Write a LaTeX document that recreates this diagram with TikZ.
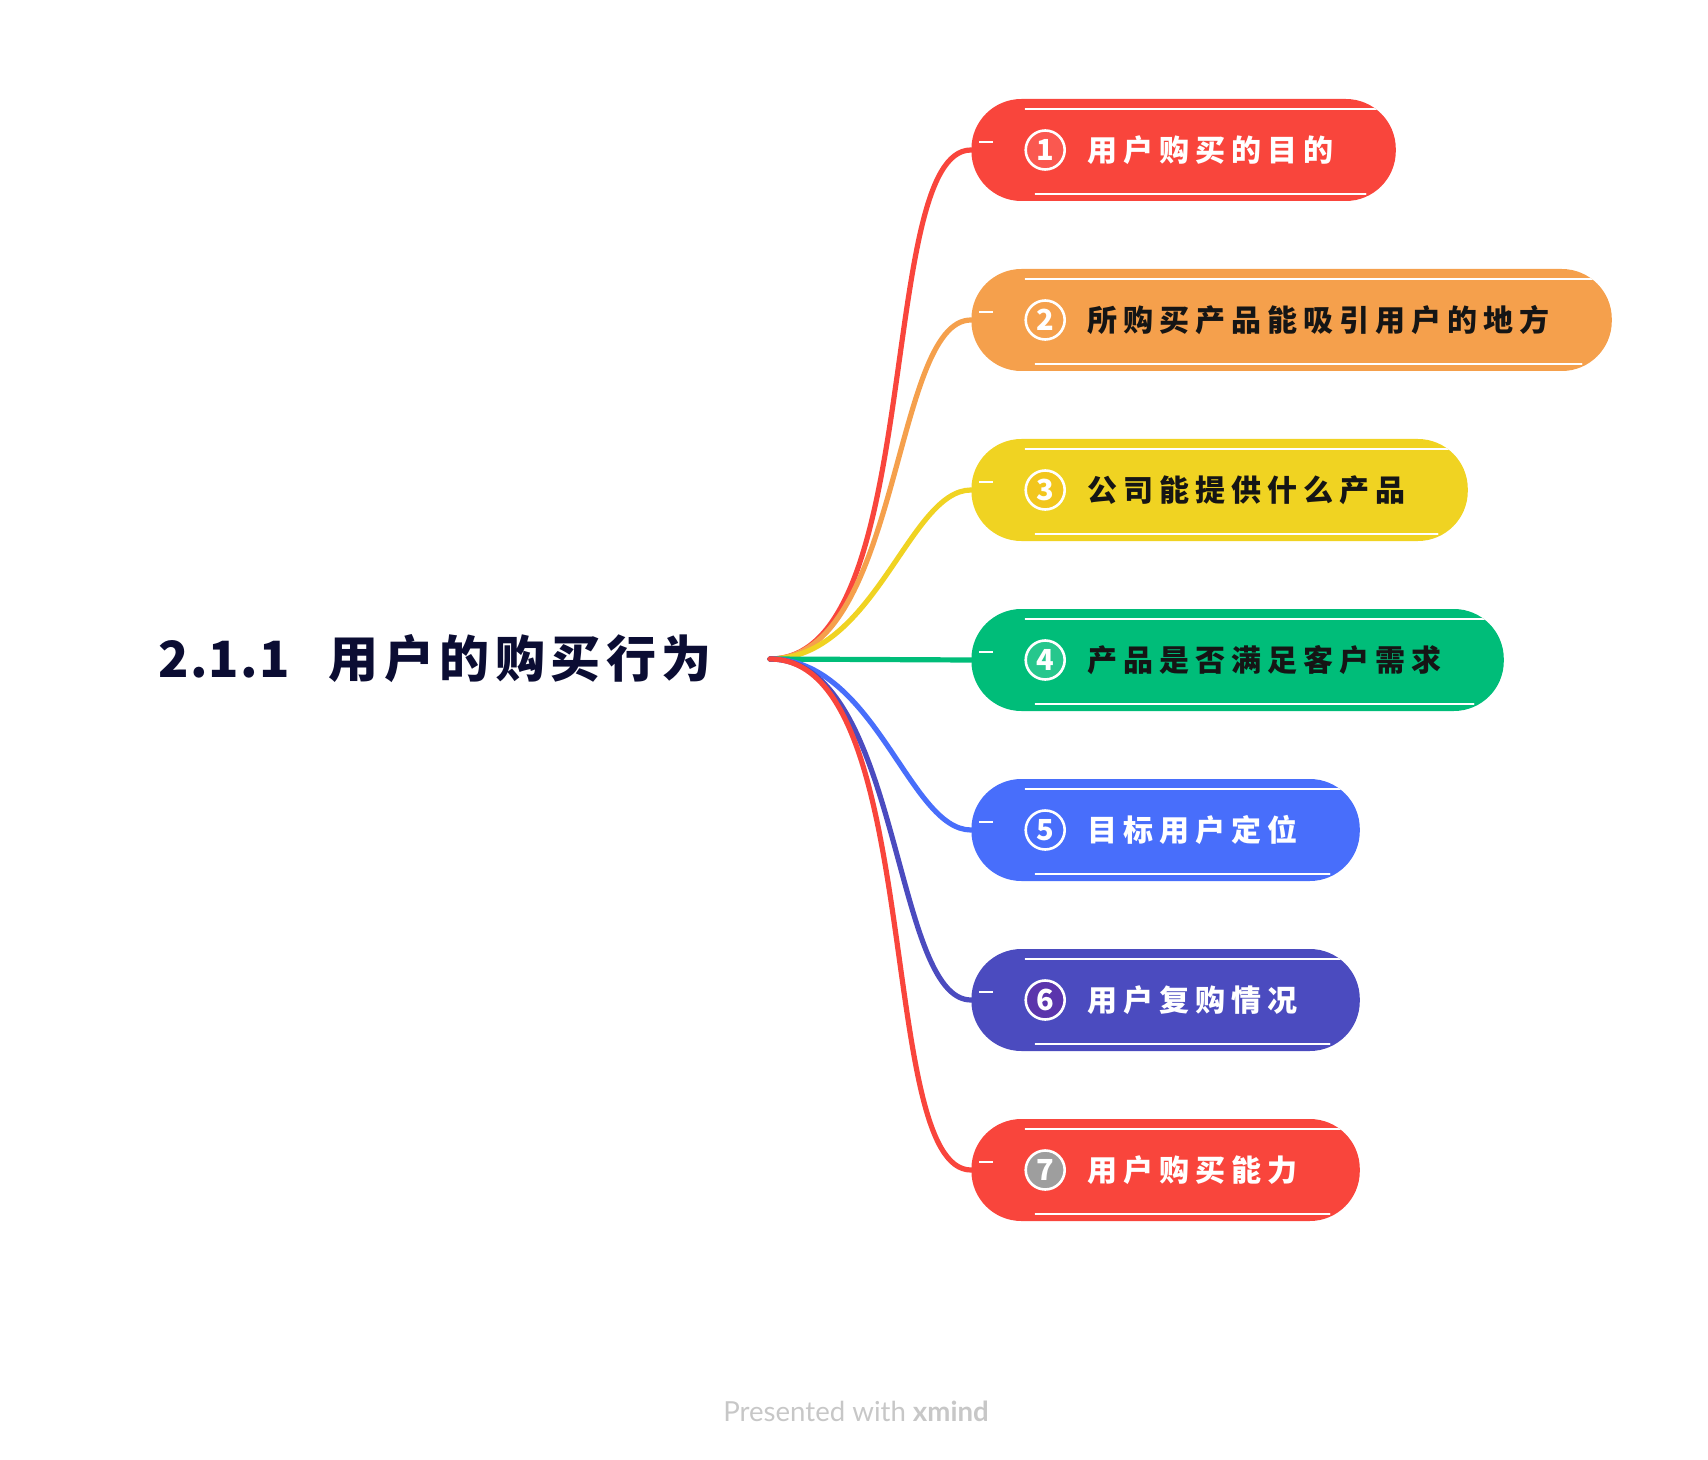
\documentclass[tikz,border=0pt]{standalone}
\usepackage{fontspec}
\setmainfont{Lato}
\newfontfamily\cjkfont[LetterSpace=20]{Noto Sans CJK SC}
\newfontfamily\titlefont[LetterSpace=11]{Noto Sans CJK SC}
\newfontfamily\digitfont[LetterSpace=2.5]{Noto Sans CJK SC}
\usetikzlibrary{positioning, fit, backgrounds}

\definecolor{mred}{HTML}{F9453C}
\definecolor{morange}{HTML}{F5A04C}
\definecolor{myellow}{HTML}{F0D322}
\definecolor{mgreen}{HTML}{00BD79}
\definecolor{mblue}{HTML}{486EFB}
\definecolor{mpurple}{HTML}{4B4BBF}
\definecolor{titleink}{HTML}{0B0D33}
\definecolor{darkink}{HTML}{151515}

\begin{document}
\begin{tikzpicture}[
        x=0.5pt, y=-0.5pt,
        topic/.style={font=\titlefont\bfseries\fontsize{25}{30}\selectfont, text=titleink, inner sep=0pt, anchor=west},
        itemtext/.style={font=\cjkfont\bfseries\fontsize{15}{18}\selectfont, inner sep=0pt, anchor=west},
        numdot/.style={circle, draw=white, line width=1.3pt, minimum size=19.5pt, inner sep=0pt, text=white, font=\digitfont\bfseries\fontsize{14.5}{15}\selectfont},
        pill/.style={rectangle, rounded corners=25pt, minimum height=51pt, inner xsep=26.5pt, inner ysep=0pt,
            path picture={
                \draw[white, line width=0.7pt, line cap=round] ([xshift=27pt,yshift=-5pt]path picture bounding box.north west) -- ([xshift=-8pt,yshift=-5pt]path picture bounding box.north east);
                \draw[white, line width=0.7pt, line cap=round] ([xshift=32pt,yshift=3.5pt]path picture bounding box.south west) -- ([xshift=-15pt,yshift=3.5pt]path picture bounding box.south east);
                \draw[white, line width=0.7pt] ([xshift=4pt,yshift=4pt]path picture bounding box.west) -- ++(7pt,0pt);
            }},
        link/.style={line width=2.6pt, line cap=round},
        credit/.style={font=\fontsize{13.8}{16}\selectfont, text=black!22}
    ]
    \useasboundingbox (0,0) rectangle (1708,1460);

    \node (topic) [topic] at (158,659) {{\digitfont 2.1.1}\hspace{19.5pt}用户的购买行为};
    \coordinate (hub) at (770,659);

    \node (t1) [itemtext, text=white] at (1087,150) {用户购买的目的};
    \node (t2) [itemtext, text=darkink, below=85pt of t1.west, anchor=west] {所购买产品能吸引用户的地方};
    \node (t3) [itemtext, text=darkink, below=85pt of t2.west, anchor=west] {公司能提供什么产品};
    \node (t4) [itemtext, text=darkink, below=85pt of t3.west, anchor=west] {产品是否满足客户需求};
    \node (t5) [itemtext, text=white, below=85pt of t4.west, anchor=west] {目标用户定位};
    \node (t6) [itemtext, text=white, below=85pt of t5.west, anchor=west] {用户复购情况};
    \node (t7) [itemtext, text=white, below=85pt of t6.west, anchor=west] {用户购买能力};

    \node (d1) [numdot, fill=mred!90!white, left=10.5pt of t1] {1};
    \node (d2) [numdot, fill=morange, left=10.5pt of t2] {2};
    \node (d3) [numdot, fill=myellow!85!orange, left=10.5pt of t3] {3};
    \node (d4) [numdot, fill=mgreen!85!white, left=10.5pt of t4] {4};
    \node (d5) [numdot, fill=mblue, left=10.5pt of t5] {5};
    \node (d6) [numdot, fill=mpurple!70!violet, left=10.5pt of t6] {6};
    \node (d7) [numdot, fill=black!38, left=10.5pt of t7] {7};

    % right ends of the pills
    \coordinate [right=4.5pt of t1] (e1);
    \coordinate [right=4.5pt of t2] (e2);
    \coordinate [right=4.5pt of t3] (e3);
    \coordinate [right=4.5pt of t4] (e4);
    \coordinate [right=4.5pt of t5] (e5);
    \coordinate [right=4.5pt of t6] (e6);
    \coordinate [right=4.5pt of t7] (e7);

    \begin{scope}[on background layer]
        \node (b1) [pill, fill=mred, fit=(d1)(t1)(e1)] {};
        \node (b2) [pill, fill=morange, fit=(d2)(t2)(e2)] {};
        \node (b3) [pill, fill=myellow, fit=(d3)(t3)(e3)] {};
        \node (b4) [pill, fill=mgreen, fit=(d4)(t4)(e4)] {};
        \node (b5) [pill, fill=mblue, fit=(d5)(t5)(e5)] {};
        \node (b6) [pill, fill=mpurple, fit=(d6)(t6)(e6)] {};
        \node (b7) [pill, fill=mred, fit=(d7)(t7)(e7)] {};
    \end{scope}

    \draw [link, mred] (hub) .. controls +(156,0) and +(-96,0) .. (b1.west);
    \draw [link, morange] (hub) .. controls +(131,0) and +(-79,0) .. (b2.west);
    \draw [link, myellow] (hub) .. controls +(105,0) and +(-62,0) .. (b3.west);
    \draw [link, mgreen] (hub) -- (b4.west);
    \draw [link, mblue] (hub) .. controls +(105,0) and +(-62,0) .. (b5.west);
    \draw [link, mpurple] (hub) .. controls +(131,0) and +(-79,0) .. (b6.west);
    \draw [link, mred] (hub) .. controls +(156,0) and +(-96,0) .. (b7.west);

    \node (footer) [credit] at (856,1411) {Presented with \textbf{xmind}};

\end{tikzpicture}
\end{document}
